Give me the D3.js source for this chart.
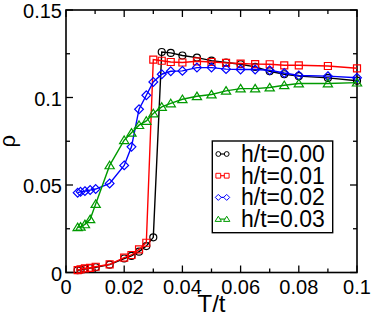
<!DOCTYPE html>
<html lang="en">
  <head>
    <meta charset="utf-8">
    <title>rho vs T/t</title>
    <script src="https://d3js.org/d3.v7.js"></script>
    <style>
      body { margin: 0; background: white; }
    </style>
  </head>
  <body>
  <script>

  // temperature grid shared by all curves
  var temps = [0.004, 0.005, 0.0065, 0.0083, 0.0102, 0.015, 0.020, 0.0225, 0.0251, 0.0276, 0.030,
               0.0329, 0.036, 0.040, 0.045, 0.050, 0.055, 0.060, 0.065, 0.070, 0.075, 0.080, 0.090, 0.100];

  var rhoH000 = [0.0013, 0.0016, 0.0020, 0.0025, 0.0030, 0.0045, 0.0080, 0.0095, 0.0119, 0.0151, 0.0201,
                 0.1260, 0.1255, 0.1240, 0.1228, 0.1211, 0.1200, 0.1190, 0.1175, 0.1150, 0.1133, 0.1122, 0.1112, 0.1096];
  var rhoH001 = [0.0014, 0.0018, 0.0024, 0.0027, 0.0033, 0.0047, 0.0085, 0.0100, 0.0132, 0.0170, 0.1217,
                 0.1210, 0.1203, 0.1200, 0.1207, 0.1203, 0.1198, 0.1194, 0.1191, 0.1190, 0.1184, 0.1184, 0.1180, 0.1167];
  var rhoH002 = [0.0456, 0.0461, 0.0465, 0.0471, 0.0477, 0.0509, 0.0612, 0.0718, 0.0933, 0.1013, 0.1089,
                 0.1133, 0.1150, 0.1152, 0.1171, 0.1171, 0.1162, 0.1160, 0.1160, 0.1156, 0.1140, 0.1126, 0.1122, 0.1113];
  var rhoH003 = [0.0258, 0.0261, 0.0275, 0.0304, 0.0391, 0.0612, 0.0756, 0.0798, 0.0842, 0.0866, 0.0909,
                 0.0946, 0.0966, 0.0990, 0.1007, 0.1017, 0.1038, 0.1051, 0.1051, 0.1057, 0.1070, 0.1080, 0.1080, 0.1085];

  var seriesNames = ["h/t=0.00", "h/t=0.01", "h/t=0.02", "h/t=0.03"];
  var xTicks = [0, 0.02, 0.04, 0.06, 0.08, 0.1];
  var xTickLabels = ["0", "0.02", "0.04", "0.06", "0.08", "0.1"];
  var yTicks = [0, 0.05, 0.1, 0.15];
  var yTickLabels = ["0", "0.05", "0.1", "0.15"];

  var font = "'Liberation Sans', Arial, sans-serif";

  var w = 371, h = 316;
  var margin = {top: 10, right: 14, bottom: 43.5, left: 66};

  var svg = d3.select("body").append("svg")
      .attr("width", w)
      .attr("height", h);

  var xScale = d3.scaleLinear().domain([0, 0.1]).range([margin.left, w - margin.right]);
  var yScale = d3.scaleLinear().domain([0, 0.15]).range([h - margin.bottom, margin.top]);

  var x0 = xScale(0), x1 = xScale(0.1), y0 = yScale(0), y1 = yScale(0.15);

  // ticks, all four sides, pointing inward
  var xMinor = d3.range(0, 0.1001, 0.01);
  var yMinor = d3.range(0, 0.1501, 0.025);
  var tickG = svg.append("g").attr("stroke", "black").attr("stroke-width", 1.3);
  xMinor.forEach(function(v, i) {
    var len = (i % 2 === 0) ? 7 : 4;
    tickG.append("line").attr("x1", xScale(v)).attr("x2", xScale(v)).attr("y1", y0).attr("y2", y0 - len);
    tickG.append("line").attr("x1", xScale(v)).attr("x2", xScale(v)).attr("y1", y1).attr("y2", y1 + len);
  });
  yMinor.forEach(function(v, i) {
    var len = (i % 2 === 0) ? 7 : 4;
    tickG.append("line").attr("y1", yScale(v)).attr("y2", yScale(v)).attr("x1", x0).attr("x2", x0 + len);
    tickG.append("line").attr("y1", yScale(v)).attr("y2", yScale(v)).attr("x1", x1).attr("x2", x1 - len);
  });

  // frame
  svg.append("rect")
    .attr("x", x0).attr("y", y1)
    .attr("width", x1 - x0).attr("height", y0 - y1)
    .attr("fill", "none").attr("stroke", "black").attr("stroke-width", 1.6);

  // tick labels
  svg.selectAll(".xlab").data(xTicks).join("text")
    .attr("class", "xlab")
    .attr("x", d => xScale(d))
    .attr("y", y0 + 21)
    .attr("text-anchor", "middle")
    .attr("font-family", font)
    .attr("font-size", 20)
    .text((d, i) => xTickLabels[i]);

  svg.selectAll(".ylab").data(yTicks).join("text")
    .attr("class", "ylab")
    .attr("x", x0 - 4)
    .attr("y", d => yScale(d) + 8)
    .attr("text-anchor", "end")
    .attr("font-family", font)
    .attr("font-size", 20)
    .text((d, i) => yTickLabels[i]);

  // axis titles
  svg.append("text")
    .attr("x", (x0 + x1) / 2)
    .attr("y", 312)
    .attr("text-anchor", "middle")
    .attr("font-family", font)
    .attr("font-size", 24)
    .text("T/t");

  svg.append("text")
    .attr("transform", "translate(15," + ((y0 + y1) / 2) + ") rotate(-90)")
    .attr("text-anchor", "middle")
    .attr("font-family", font)
    .attr("font-size", 22)
    .text("ρ");

  // series
  var series = [
    {name: seriesNames[0], values: rhoH000, color: "#000000", shape: "circle"},
    {name: seriesNames[1], values: rhoH001, color: "#ff0000", shape: "square"},
    {name: seriesNames[2], values: rhoH002, color: "#0000ff", shape: "diamond"},
    {name: seriesNames[3], values: rhoH003, color: "#009a00", shape: "triangle"}
  ];

  function markerPath(shape, s) {
    if (shape === "circle") return d3.symbol(d3.symbolCircle, Math.PI * s * s)();
    if (shape === "square") return d3.symbol(d3.symbolSquare, 4 * s * s)();
    if (shape === "diamond") {
      var r = s * 1.25;
      return "M0," + (-r) + "L" + r + ",0L0," + r + "L" + (-r) + ",0Z";
    }
    var t = s * 1.2;
    return "M0," + (-t) + "L" + (t * 1.1) + "," + (t * 0.8) + "L" + (-t * 1.1) + "," + (t * 0.8) + "Z";
  }

  var line = d3.line()
    .x(d => xScale(d[0]))
    .y(d => yScale(d[1]));

  series.forEach(function(s) {
    var pts = temps.map((t, i) => [t, s.values[i]]);
    svg.append("path")
      .datum(pts)
      .attr("d", line)
      .attr("fill", "none")
      .attr("stroke", s.color)
      .attr("stroke-width", 1.4);
    svg.append("g").selectAll("path")
      .data(pts)
      .join("path")
      .attr("transform", d => "translate(" + xScale(d[0]) + "," + yScale(d[1]) + ")")
      .attr("d", markerPath(s.shape, 3.5))
      .attr("fill", "none")
      .attr("stroke", s.color)
      .attr("stroke-width", 1.2);
  });

  // legend
  var leg = svg.append("g");
  leg.append("rect")
    .attr("x", 212.3).attr("y", 141)
    .attr("width", 120.4).attr("height", 91.7)
    .attr("fill", "white").attr("stroke", "black").attr("stroke-width", 1.4);

  series.forEach(function(s, i) {
    var base = 162 + i * 21.7;
    var cy = base - 8;
    leg.append("line")
      .attr("x1", 218.3).attr("x2", 226.7)
      .attr("y1", cy).attr("y2", cy)
      .attr("stroke", s.color).attr("stroke-width", 1.2);
    [218.3, 226.7].forEach(function(cx) {
      leg.append("path")
        .attr("transform", "translate(" + cx + "," + cy + ")")
        .attr("d", markerPath(s.shape, 2.4))
        .attr("fill", "white")
        .attr("stroke", s.color)
        .attr("stroke-width", 1);
    });
    leg.append("text")
      .attr("x", 241)
      .attr("y", base)
      .attr("font-family", font)
      .attr("font-size", 23)
      .text(s.name);
  });

  </script>
  </body>
</html>
